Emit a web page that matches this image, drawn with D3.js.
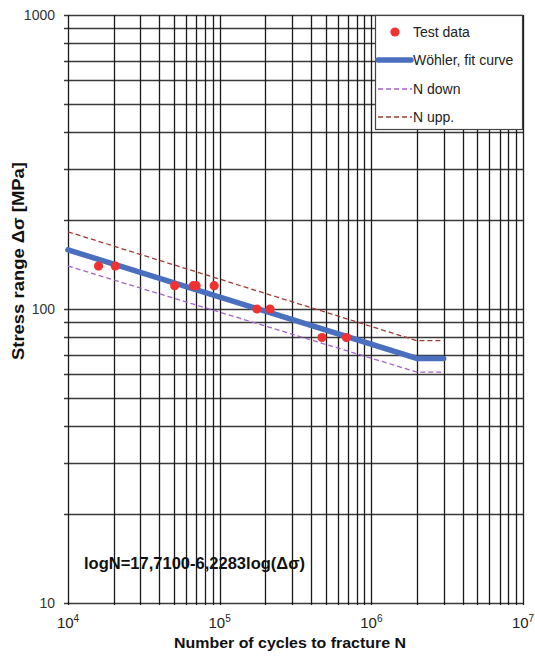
<!DOCTYPE html>
<html><head><meta charset="utf-8">
<script src="https://cdn.jsdelivr.net/npm/d3@7/dist/d3.min.js"></script>
<style>body{margin:0;background:#fff;}svg{display:block;font-family:Arial,"Liberation Sans",sans-serif;}</style>
</head><body>
<svg id="chart" width="535" height="658"></svg>
<script>
// Data
const testN = [15900, 20500, 50500, 67000, 70000, 92000, 176000, 215000, 473000, 685000];
const testS = [140, 140, 120, 120, 120, 120, 100, 100, 80, 80];
const fitN = [10000, 2000000, 3000000];
const fitS = [158.9, 67.9, 67.9];
const uppN = [10000, 2000000, 3000000];
const uppS = [183, 78, 78];
const downN = [10000, 2000000, 3000000];
const downS = [140, 61, 61];
const xTickExp = [4, 5, 6, 7];
const yTickVals = [10, 100, 1000];
const legendLabels = ["Test data", "Wöhler, fit curve", "N down", "N upp."];
const formula = "logN=17,7100-6,2283log(Δσ)";

const svg = d3.select("#chart");
const L = 68, R = 523, T = 15, B = 603;
const x = d3.scaleLog().domain([1e4, 1e7]).range([L, R]);
const y = d3.scaleLog().domain([10, 1000]).range([B, T]);

const xGrid = [], yGrid = [];
for (let e = 4; e < 7; e++) for (let m = 1; m < 10; m++) xGrid.push(m * Math.pow(10, e));
xGrid.push(1e7);
for (let e = 1; e < 3; e++) for (let m = 1; m < 10; m++) yGrid.push(m * Math.pow(10, e));
yGrid.push(1000);

const g = svg.append("g");
g.selectAll("line.h").data(yGrid).join("line")
  .attr("x1", L - 4).attr("x2", R)
  .attr("y1", d => Math.round(y(d)) + 0.5).attr("y2", d => Math.round(y(d)) + 0.5)
  .attr("stroke", "#3a3a3a").attr("stroke-width", 1.3);
g.selectAll("line.v").data(xGrid).join("line")
  .attr("y1", T).attr("y2", B + 2)
  .attr("x1", d => Math.round(x(d)) + 0.5).attr("x2", d => Math.round(x(d)) + 0.5)
  .attr("stroke", "#1a1a1a").attr("stroke-width", 1.3);

g.selectAll("text.yt").data(yTickVals).join("text")
  .attr("x", 55).attr("y", d => y(d) + 5)
  .attr("text-anchor", "end").attr("font-size", 14).attr("fill", "#333")
  .text(d => d);

const xt = g.selectAll("text.xt").data(xTickExp).join("text")
  .attr("x", d => x(Math.pow(10, d))).attr("y", 628)
  .attr("text-anchor", "middle").attr("font-size", 15).attr("fill", "#222");
xt.append("tspan").text("10");
xt.append("tspan").attr("dy", -6).attr("font-size", 10).text(d => d);

const line = d3.line().x(d => x(d[0])).y(d => y(d[1]));
g.append("path").datum(downN.map((n, i) => [n, downS[i]]))
  .attr("d", line).attr("fill", "none").attr("stroke", "#a463c8").attr("stroke-width", 1.3)
  .attr("stroke-dasharray", "5,3");
g.append("path").datum(uppN.map((n, i) => [n, uppS[i]]))
  .attr("d", line).attr("fill", "none").attr("stroke", "#a23c34").attr("stroke-width", 1.3)
  .attr("stroke-dasharray", "5,3");
g.append("path").datum(fitN.map((n, i) => [n, fitS[i]]))
  .attr("d", line).attr("fill", "none").attr("stroke", "#4a6fbf").attr("stroke-width", 5.5)
  .attr("stroke-linecap", "round");

g.selectAll("circle.p").data(testN.map((n, i) => [n, testS[i]])).join("circle")
  .attr("cx", d => x(d[0])).attr("cy", d => y(d[1])).attr("r", 4.6).attr("fill", "#f03232");

g.append("text").attr("x", 84).attr("y", 569).attr("font-size", 16).attr("font-weight", "bold")
  .attr("fill", "#111").attr("textLength", 221).attr("lengthAdjust", "spacingAndGlyphs").text(formula);

const lg = g.append("g");
lg.append("rect").attr("x", 375.5).attr("y", 15.5).attr("width", 147).attr("height", 114)
  .attr("fill", "#fff").attr("stroke", "#444").attr("stroke-width", 1.2);
const ly = [32, 60, 89, 117];
lg.append("circle").attr("cx", 395).attr("cy", ly[0]).attr("r", 4.6).attr("fill", "#f03232");
lg.append("line").attr("x1", 378).attr("x2", 411).attr("y1", ly[1]).attr("y2", ly[1])
  .attr("stroke", "#4a6fbf").attr("stroke-width", 5.5).attr("stroke-linecap", "round");
lg.append("line").attr("x1", 378).attr("x2", 412).attr("y1", ly[2]).attr("y2", ly[2])
  .attr("stroke", "#a463c8").attr("stroke-width", 1.3).attr("stroke-dasharray", "5,3");
lg.append("line").attr("x1", 378).attr("x2", 412).attr("y1", ly[3]).attr("y2", ly[3])
  .attr("stroke", "#a23c34").attr("stroke-width", 1.3).attr("stroke-dasharray", "5,3");
lg.selectAll("text").data(legendLabels).join("text")
  .attr("x", 413).attr("y", (d, i) => ly[i] + 5)
  .attr("font-size", 14).attr("fill", "#222").text(d => d);

svg.append("text").attr("transform", "translate(24,261) rotate(-90)")
  .attr("text-anchor", "middle").attr("font-size", 16).attr("font-weight", "bold").attr("fill", "#111")
  .attr("textLength", 198).attr("lengthAdjust", "spacingAndGlyphs")
  .text("Stress range Δσ [MPa]");
svg.append("text").attr("x", 290).attr("y", 648).attr("text-anchor", "middle")
  .attr("font-size", 15.5).attr("font-weight", "bold").attr("fill", "#111")
  .attr("textLength", 232).attr("lengthAdjust", "spacingAndGlyphs")
  .text("Number of cycles to fracture N");
</script>
</body></html>
